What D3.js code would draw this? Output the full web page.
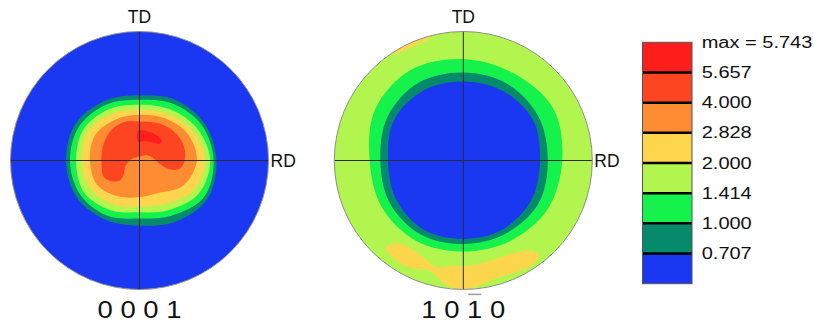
<!DOCTYPE html>
<html><head><meta charset="utf-8">
<script src="https://cdn.jsdelivr.net/npm/d3@7"></script>
<style>html,body{margin:0;padding:0;background:#fff;} svg{display:block;}</style>
</head><body>
<script>
// ---------- data ----------
const levels = [0.707, 1.000, 1.414, 2.000, 2.828, 4.000, 5.657];
const maxValue = 5.743;
// band colours from low to high
const bandColors = ["#1a37f2", "#058a6b", "#16f24c", "#b3f54f", "#fed64e", "#fd8c32", "#fd4522", "#fe1f1d"];
const legendLabels = ["max = 5.743", "5.657", "4.000", "2.828", "2.000", "1.414", "1.000", "0.707"];
const axisLabels = ["TD", "RD"];
const plotTitles = ["0 0 0 1", "1 0 1 0"];

// angles (deg, counter-clockwise from RD) at which contour radii were read
const sampleAngles = [0, 30, 60, 90, 120, 150, 180, 210, 240, 270, 300, 330];

// (0001) pole figure: contour radii (fraction of the projection radius)
const pf0001_c0707 = [0.597, 0.580, 0.545, 0.505, 0.535, 0.572, 0.570, 0.565, 0.530, 0.505, 0.550, 0.605];
const pf0001_c1000 = [0.575, 0.555, 0.510, 0.471, 0.503, 0.537, 0.539, 0.530, 0.495, 0.450, 0.495, 0.575];
const pf0001_c1414 = [0.548, 0.510, 0.460, 0.433, 0.462, 0.497, 0.492, 0.496, 0.445, 0.402, 0.445, 0.525];
const pf0001_c2000 = [0.508, 0.470, 0.420, 0.394, 0.420, 0.457, 0.448, 0.437, 0.395, 0.360, 0.390, 0.475];
const pf0001_c2828 = [0.445, 0.425, 0.380, 0.355, 0.368, 0.396, 0.384, 0.378, 0.322, 0.283, 0.290, 0.390];
// horseshoe-shaped 4.000 region and the 5.657 peak, as (x, y) points
const pf0001_c4000 = [[0.004,0.031],[0.054,0.043],[0.105,0.019],[0.159,-0.027],[0.229,-0.066],[0.298,-0.070],
  [0.341,-0.027],[0.353,0.066],[0.322,0.159],[0.252,0.236],[0.151,0.287],[0.004,0.302],[-0.101,0.302],
  [-0.202,0.252],[-0.267,0.159],[-0.293,0.058],[-0.293,-0.047],[-0.279,-0.124],[-0.229,-0.157],
  [-0.155,-0.157],[-0.124,-0.112],[-0.112,-0.050],[-0.085,-0.008],[-0.047,0.019]];
const pf0001_c5657 = [[-0.010,0.232],[0.081,0.220],[0.140,0.190],[0.175,0.150],[0.150,0.128],
  [0.085,0.145],[0.030,0.150],[-0.010,0.145]];

// (10-10) pole figure: values fall towards the centre
const pf1010_c1414 = [0.767, 0.805, 0.780, 0.787, 0.812, 0.790, 0.726, 0.728, 0.722, 0.705, 0.722, 0.755];
const pf1010_c1000 = [0.655, 0.675, 0.685, 0.682, 0.695, 0.678, 0.643, 0.658, 0.662, 0.647, 0.655, 0.672];
const pf1010_c0707 = [0.594, 0.625, 0.620, 0.612, 0.625, 0.622, 0.583, 0.602, 0.618, 0.608, 0.615, 0.610];
const pf1010_c2000a = [[-0.555,0.825],[-0.470,0.905],[-0.360,0.960],[-0.245,0.985],[-0.270,0.940],
  [-0.360,0.900],[-0.440,0.860],[-0.520,0.830]];
const pf1010_c2000b = [[-0.599,-0.672],[-0.530,-0.641],[-0.426,-0.672],[-0.336,-0.731],[-0.258,-0.796],
  [-0.194,-0.827],[-0.103,-0.817],[0.000,-0.817],[0.129,-0.801],[0.258,-0.760],[0.388,-0.718],
  [0.517,-0.698],[0.581,-0.724],[0.574,-0.775],[0.504,-0.827],[0.401,-0.868],[0.284,-0.904],
  [0.181,-0.946],[0.078,-0.982],[0.000,-0.997],[-0.090,-0.982],[-0.168,-0.938],[-0.220,-0.886],
  [-0.271,-0.848],[-0.362,-0.842],[-0.452,-0.817],[-0.530,-0.765],[-0.581,-0.718]];

// ---------- drawing ----------
const W = 814, H = 324;
const FONT = "'Liberation Sans', Arial, Helvetica, sans-serif";
const svg = d3.select("body").append("svg").attr("width", W).attr("height", H);
svg.append("rect").attr("width", W).attr("height", H).attr("fill", "#fff");

const color = d3.scaleThreshold().domain(levels).range(bandColors);
const radialToXY = radii => sampleAngles.map((a, i) => {
  const t = a * Math.PI / 180;
  return [radii[i] * Math.cos(t), radii[i] * Math.sin(t)];
});

function drawPoleFigure(id, cx, cy, R, baseBand, contours, title, barChar) {
  const x = d3.scaleLinear().domain([-1, 1]).range([cx - R, cx + R]);
  const y = d3.scaleLinear().domain([-1, 1]).range([cy + R, cy - R]);
  const line = d3.line().x(d => x(d[0])).y(d => y(d[1])).curve(d3.curveCatmullRomClosed.alpha(0.5));
  const g = svg.append("g");
  g.append("clipPath").attr("id", id).append("circle").attr("cx", x(0)).attr("cy", y(0)).attr("r", x(1) - x(0));
  const body = g.append("g").attr("clip-path", `url(#${id})`);
  body.append("circle").attr("cx", x(0)).attr("cy", y(0)).attr("r", x(1) - x(0)).attr("fill", baseBand);
  contours.forEach(c => {
    const pts = c.points || radialToXY(c.radii);
    const fill = c.insideHigh ? color(c.level) : color(c.level - 1e-6);
    body.append("path").attr("d", line(pts)).attr("fill", fill);
  });
  // cross hairs
  g.append("line").attr("x1", x(-1)).attr("x2", x(1)).attr("y1", y(0)).attr("y2", y(0))
    .attr("stroke", "#2a2a3a").attr("stroke-width", 1);
  g.append("line").attr("x1", x(0)).attr("x2", x(0)).attr("y1", y(1)).attr("y2", y(-1))
    .attr("stroke", "#2a2a3a").attr("stroke-width", 1);
  g.append("circle").attr("cx", x(0)).attr("cy", y(0)).attr("r", x(1) - x(0))
    .attr("fill", "none").attr("stroke", "#8c8c8c").attr("stroke-width", 1);
  // axis labels
  g.append("text").attr("x", x(0)).attr("y", y(1) - 8.5).attr("text-anchor", "middle")
    .attr("font-family", FONT).attr("font-size", 17.5).attr("fill", "#111").text(axisLabels[0]);
  g.append("text").attr("x", x(1) + 2).attr("y", y(0) + 6.3).attr("text-anchor", "start")
    .attr("font-family", FONT).attr("font-size", 17.5).attr("fill", "#111").text(axisLabels[1]);
  // title
  const tg = g.append("g").attr("transform", `translate(${x(0)},${y(-1) + 28}) scale(1.12,1)`);
  const t = tg.append("text").attr("text-anchor", "middle").attr("font-family", FONT)
    .attr("font-size", 24.5).attr("fill", "#111").text(title);
  if (barChar != null) {
    const e = t.node().getExtentOfChar(barChar);
    tg.append("line").attr("x1", e.x + 1).attr("x2", e.x + e.width - 1)
      .attr("y1", e.y - 0.5).attr("y2", e.y - 0.5).attr("stroke", "#9a9a9a").attr("stroke-width", 1.5);
  }
}

drawPoleFigure("clipL", 139.5, 160.5, 129, bandColors[0], [
  {level: levels[0], radii: pf0001_c0707, insideHigh: true},
  {level: levels[1], radii: pf0001_c1000, insideHigh: true},
  {level: levels[2], radii: pf0001_c1414, insideHigh: true},
  {level: levels[3], radii: pf0001_c2000, insideHigh: true},
  {level: levels[4], radii: pf0001_c2828, insideHigh: true},
  {level: levels[5], points: pf0001_c4000, insideHigh: true},
  {level: levels[6], points: pf0001_c5657, insideHigh: true}
], plotTitles[0], null);

drawPoleFigure("clipR", 463.3, 160.5, 129, bandColors[3], [
  {level: levels[3], points: pf1010_c2000a, insideHigh: true},
  {level: levels[3], points: pf1010_c2000b, insideHigh: true},
  {level: levels[2], radii: pf1010_c1414, insideHigh: false},
  {level: levels[1], radii: pf1010_c1000, insideHigh: false},
  {level: levels[0], radii: pf1010_c0707, insideHigh: false}
], plotTitles[1], 4);

// ---------- legend ----------
const legendBands = bandColors.slice().reverse(); // top = highest
const ly = d3.scaleBand().domain(d3.range(legendBands.length)).range([42.3, 283.7]);
const lx0 = 642.5, lx1 = 692;
const lg = svg.append("g");
lg.selectAll("rect.band").data(legendBands).join("rect").attr("class", "band")
  .attr("x", lx0).attr("width", lx1 - lx0)
  .attr("y", (d, i) => ly(i)).attr("height", ly.bandwidth()).attr("fill", d => d);
lg.selectAll("line.sep").data(d3.range(1, legendBands.length)).join("line").attr("class", "sep")
  .attr("x1", lx0).attr("x2", lx1).attr("y1", i => ly(i)).attr("y2", i => ly(i))
  .attr("stroke", "#000").attr("stroke-width", 2.5);
lg.append("rect").attr("x", lx0).attr("y", ly.range()[0]).attr("width", lx1 - lx0)
  .attr("height", ly.range()[1] - ly.range()[0]).attr("fill", "none").attr("stroke", "#555").attr("stroke-width", 1);
lg.selectAll("g.lab").data(legendLabels).join("g").attr("class", "lab")
  .attr("transform", (d, i) => `translate(701.7,${ly(i) + 5.6}) scale(1.25,1)`)
  .append("text").attr("font-family", FONT).attr("font-size", 16).attr("fill", "#111").text(d => d);
</script>
</body></html>
